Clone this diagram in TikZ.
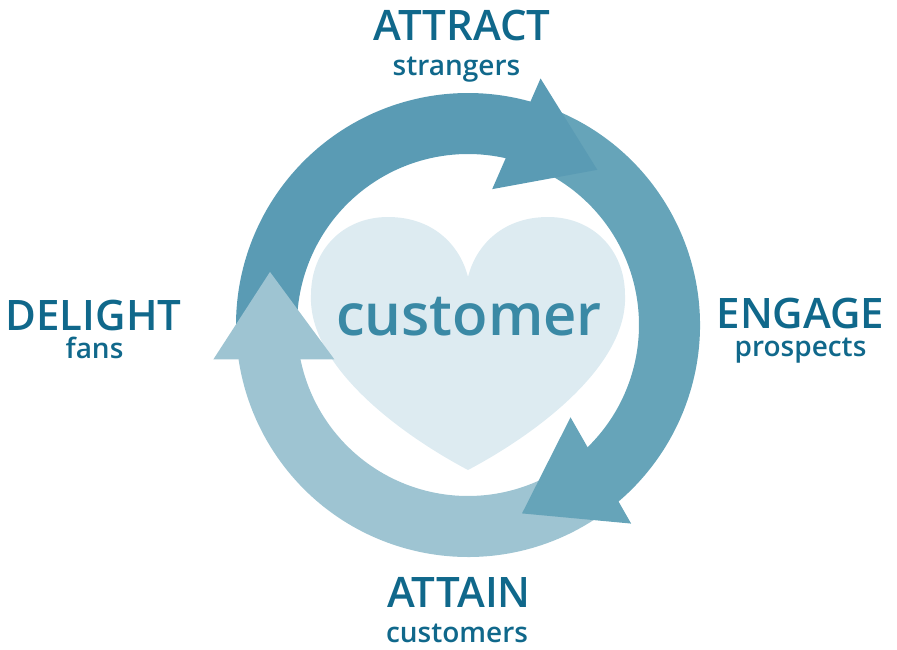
\documentclass[tikz,border=0pt]{standalone}
\usepackage{fontspec}
\setmainfont{Open Sans}[BoldFont={Open Sans Semibold}]
\definecolor{arrowA}{RGB}{90,155,180}
\definecolor{arrowB}{RGB}{102,164,185}
\definecolor{arrowC}{RGB}{158,196,210}
\definecolor{heartfill}{RGB}{221,235,241}
\definecolor{labeltext}{RGB}{16,104,139}
\definecolor{hearttext}{RGB}{58,137,165}
\begin{document}
\begin{tikzpicture}[x=1pt,y=1pt,
    stage/.style={text=labeltext,font=\bfseries\fontsize{42}{42}\selectfont,inner sep=0pt,anchor=base},
    sub/.style={text=labeltext,font=\bfseries\fontsize{28}{28}\selectfont,inner sep=0pt,anchor=base}]
    \useasboundingbox (-468,-324) rectangle (429,325);
    % heart
    \fill[heartfill] (0,-145) .. controls (-70,-108) and (-160,-40) .. (-157,30)
      .. controls (-157,75) and (-125,108) .. (-80,108)
      .. controls (-35,108) and (-8,80) .. (0,48)
      .. controls (8,80) and (35,108) .. (80,108)
      .. controls (125,108) and (157,75) .. (157,30)
      .. controls (160,-40) and (70,-108) .. (0,-145) -- cycle;
    \node[font=\bfseries\fontsize{58}{58}\selectfont,text=hearttext,anchor=base,inner sep=0pt] (customer) at (1,-10) {customer};
    % shafts first, heads on top
    \foreach \col/\s/\eo/\ei in {arrowA/182.7/73.1/76.1, arrowB/68.6/-51.1/-48.1, arrowC/-55.6/-172.8/-169.8}
    {
      \fill[\col] (\s:232) arc[start angle=\s,end angle=\eo,radius=232pt]
        -- (\ei:171) arc[start angle=\ei,end angle=\s,radius=171pt] -- cycle;
    }
    \foreach \col/\ob/\ib/\tp/\tr in {arrowA/73.6/79.9/50.2/202, arrowB/-50.6/-42/-74/196, arrowC/-172.3/-165.6/-195/205}
    {
      \fill[\col] (\ob:257) -- (\tp:\tr) -- (\ib:138) -- cycle;
    }
    % labels
    \node[stage] (attract) at (-6,285) {ATTRACT};
    \node[sub] (strangers) at (-11.5,250) {strangers};
    \node[stage] (delight) at (-374.5,-5) {DELIGHT};
    \node[sub] (fans) at (-373.5,-33) {fans};
    \node[stage] (engage) at (332.5,-3) {ENGAGE};
    \node[sub] (prospects) at (332.5,-31) {prospects};
    \node[stage] (attain) at (-9,-282) {ATTAIN};
    \node[sub] (customers) at (-11,-317) {customers};
\end{tikzpicture}
\end{document}
